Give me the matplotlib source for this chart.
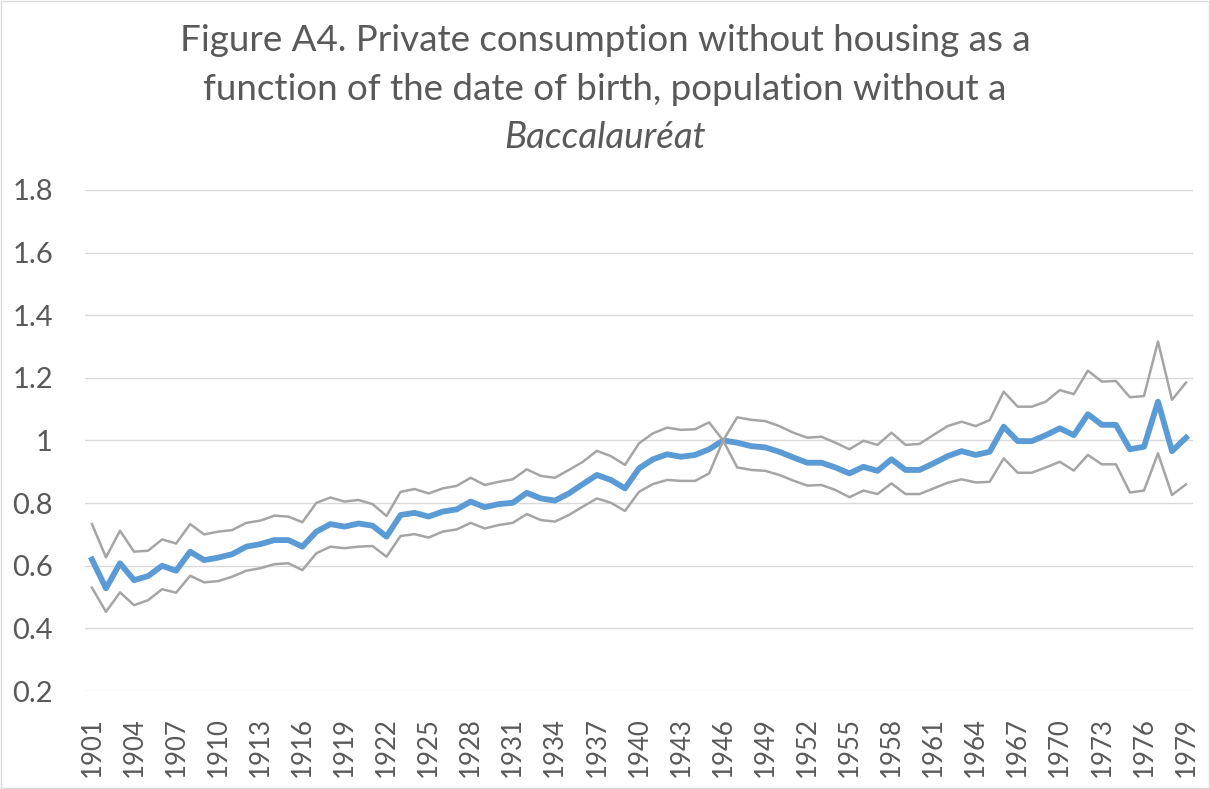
import matplotlib
matplotlib.use("Agg")
import matplotlib.pyplot as plt
from matplotlib.patches import Rectangle

# Birth years (x axis)
years = list(range(1901, 1980))

# Central estimate (blue)
central = [0.620, 0.528, 0.608, 0.554, 0.567, 0.600, 0.584, 0.645, 0.618, 0.626,
           0.637, 0.661, 0.669, 0.682, 0.682, 0.661, 0.709, 0.733, 0.725, 0.735,
           0.728, 0.693, 0.762, 0.769, 0.757, 0.773, 0.780, 0.805, 0.787, 0.797,
           0.801, 0.833, 0.815, 0.808, 0.831, 0.861, 0.890, 0.874, 0.847, 0.911,
           0.940, 0.956, 0.948, 0.954, 0.972, 1.000, 0.993, 0.982, 0.978, 0.964,
           0.946, 0.929, 0.929, 0.914, 0.895, 0.916, 0.903, 0.940, 0.906, 0.906,
           0.927, 0.950, 0.966, 0.954, 0.964, 1.044, 0.998, 0.998, 1.017, 1.039,
           1.017, 1.084, 1.050, 1.050, 0.972, 0.980, 1.124, 0.966, 1.009]

# Upper confidence bound (grey)
upper = [0.733, 0.627, 0.712, 0.645, 0.648, 0.684, 0.671, 0.733, 0.700, 0.709,
         0.714, 0.737, 0.744, 0.760, 0.757, 0.739, 0.801, 0.818, 0.805, 0.810,
         0.797, 0.759, 0.836, 0.845, 0.831, 0.847, 0.855, 0.881, 0.858, 0.868,
         0.876, 0.908, 0.887, 0.881, 0.906, 0.932, 0.967, 0.950, 0.922, 0.991,
         1.023, 1.041, 1.034, 1.036, 1.058, 1.000, 1.074, 1.066, 1.062, 1.046,
         1.025, 1.009, 1.012, 0.993, 0.972, 0.999, 0.986, 1.025, 0.986, 0.989,
         1.018, 1.046, 1.060, 1.046, 1.065, 1.156, 1.108, 1.108, 1.124, 1.161,
         1.148, 1.223, 1.188, 1.190, 1.138, 1.142, 1.316, 1.130, 1.185]

# Lower confidence bound (grey)
lower = [0.530, 0.453, 0.515, 0.474, 0.490, 0.525, 0.514, 0.568, 0.547, 0.551,
         0.565, 0.584, 0.592, 0.605, 0.608, 0.586, 0.640, 0.661, 0.656, 0.661,
         0.663, 0.629, 0.695, 0.701, 0.690, 0.709, 0.716, 0.737, 0.719, 0.730,
         0.737, 0.765, 0.746, 0.741, 0.762, 0.789, 0.815, 0.801, 0.775, 0.836,
         0.861, 0.874, 0.871, 0.871, 0.895, 1.000, 0.914, 0.906, 0.903, 0.890,
         0.872, 0.856, 0.858, 0.842, 0.819, 0.840, 0.829, 0.863, 0.829, 0.829,
         0.847, 0.865, 0.876, 0.866, 0.868, 0.943, 0.897, 0.897, 0.914, 0.932,
         0.904, 0.954, 0.924, 0.924, 0.834, 0.840, 0.959, 0.826, 0.860]

yticks = [0.2, 0.4, 0.6, 0.8, 1.0, 1.2, 1.4, 1.6, 1.8]
ytick_labels = ["0.2", "0.4", "0.6", "0.8", "1", "1.2", "1.4", "1.6", "1.8"]

text_color = "#595959"
plt.rcParams["font.family"] = ["Lato", "DejaVu Sans"]

fig = plt.figure(figsize=(12.1, 7.89), dpi=100)
ax = fig.add_axes([0.0702, 0.1242, 0.9158, 0.6350])

x = list(range(len(years)))
ax.plot(x, central, color="#5B9BD5", linewidth=4.2, solid_joinstyle="round", zorder=3)
ax.plot(x, upper, color="#A5A5A5", linewidth=1.8, zorder=4)
ax.plot(x, lower, color="#A5A5A5", linewidth=1.8, zorder=4)

ax.set_xlim(-0.5, len(years) - 0.5)
ax.set_ylim(0.2, 1.8)

ax.set_yticks(yticks)
ax.set_yticklabels(ytick_labels)
tick_pos = list(range(0, len(years), 3))
ax.set_xticks(tick_pos)
ax.set_xticklabels([str(years[i]) for i in tick_pos], rotation=90)

ax.tick_params(axis="y", length=0, pad=23, labelsize=21, labelcolor=text_color)
ax.tick_params(axis="x", length=0, pad=19, labelsize=18.5, labelcolor=text_color)

ax.grid(axis="y", color="#D9D9D9", linewidth=1.0)
ax.set_axisbelow(True)
for s in ax.spines.values():
    s.set_visible(False)

# Title (three lines, last one italic)
fig.text(0.5, 1 - 51 / 789, "Figure A4. Private consumption without housing as a",
         ha="center", va="baseline", fontsize=26.5, color=text_color)
fig.text(0.5, 1 - 100 / 789, "function of the date of birth, population without a",
         ha="center", va="baseline", fontsize=26.5, color=text_color)
fig.text(0.5, 1 - 148 / 789, "Baccalauréat",
         ha="center", va="baseline", fontsize=26.5, color=text_color, style="italic")

# Light chart border
fig.patches.append(Rectangle((0.001, 0.001), 0.998, 0.998, transform=fig.transFigure,
                             fill=False, edgecolor="#D9D9D9", linewidth=1.0))

fig.savefig("out.png", dpi=100)
